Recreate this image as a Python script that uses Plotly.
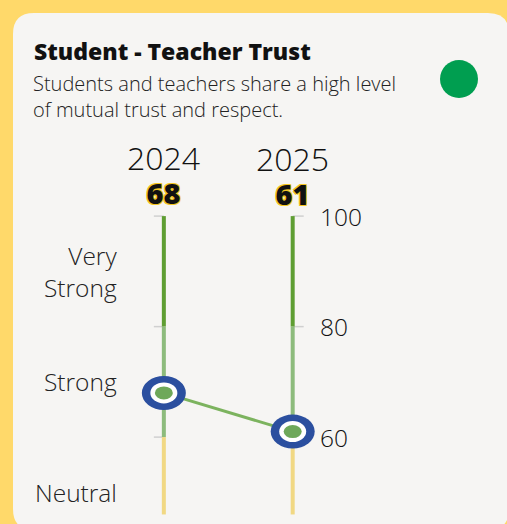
import plotly.graph_objects as go

# ---- data ----
years = ["2024", "2025"]
scores = [68, 61]
tick_vals = [100, 80, 60]
tick_labels = ["100", "80", "60"]
band_labels = ["Very<br>Strong", "Strong", "Neutral"]
band_mid = [90, 70, 50]
bands = [(80, 100, "#5f9e32"), (60, 80, "#8dbb7c"), (46, 60, "#f1d883")]
title = "Student - Teacher Trust"
subtitle_lines = ["Students and teachers share a high level", "of mutual trust and respect."]

FONT = "Open Sans"
W, H = 507, 524
L, R, T, B = 35, 137, 194, 4
pw, ph = W - L - R, H - T - B

def px(x):
    return (x - L) / pw

def py(y):
    return (H - B - y) / ph

xs = list(range(len(years)))
fig = go.Figure()

# vertical bands
for i in xs:
    for lo, hi, col in bands:
        fig.add_trace(go.Scatter(x=[i, i], y=[lo, hi], mode="lines",
                                 line=dict(color=col, width=4),
                                 hoverinfo="skip", showlegend=False))

# connector line
fig.add_trace(go.Scatter(x=xs, y=scores, mode="lines",
                         line=dict(color="#7cb35e", width=3),
                         hoverinfo="skip", showlegend=False))

shapes = []
# card background
x0, x1, y0, y1, r = 13, 509, 13, 530, 21
path = (f"M {px(x0+r)},{py(y0)} L {px(x1-r)},{py(y0)} "
        f"Q {px(x1)},{py(y0)} {px(x1)},{py(y0+r)} L {px(x1)},{py(y1-r)} "
        f"Q {px(x1)},{py(y1)} {px(x1-r)},{py(y1)} L {px(x0+r)},{py(y1)} "
        f"Q {px(x0)},{py(y1)} {px(x0)},{py(y1-r)} L {px(x0)},{py(y0+r)} "
        f"Q {px(x0)},{py(y0)} {px(x0+r)},{py(y0)} Z")
shapes.append(dict(type="path", path=path, xref="paper", yref="paper",
                   fillcolor="#f6f5f3", line=dict(width=0), layer="below"))
# status dot
shapes.append(dict(type="circle", xref="paper", yref="paper",
                   x0=px(440), x1=px(478), y0=py(98), y1=py(60),
                   fillcolor="#009e50", line=dict(width=0)))

# ticks
upp = (H - T - B) / (104 - 45)  # px per unit
xu = pw / 2.6
for tv in tick_vals:
    shapes.append(dict(type="line", xref="x", yref="y",
                       x0=0 - 10 / xu, x1=0, y0=tv, y1=tv,
                       line=dict(color="#d0d0d0", width=1.5), layer="below"))
for tv in tick_vals[:2]:
    shapes.append(dict(type="line", xref="x", yref="y",
                       x0=1, x1=1 + 11 / xu, y0=tv, y1=tv,
                       line=dict(color="#d0d0d0", width=1.5), layer="below"))

# ring markers (ellipses)
for i, s in zip(xs, scores):
    for (rw, rh, col) in [(22, 17, "#2b4f9f"), (13.5, 10.5, "#ffffff"), (9, 6.5, "#6ea85a")]:
        shapes.append(dict(type="circle", xref="x", yref="y",
                           x0=i - rw / xu, x1=i + rw / xu,
                           y0=s - rh / upp, y1=s + rh / upp,
                           fillcolor=col, line=dict(width=0), layer="above"))

ann = []
ann.append(dict(text=title, x=px(32), y=py(51), xref="paper", yref="paper",
                xanchor="left", yanchor="middle", showarrow=False,
                font=dict(family=FONT, size=23, color="#111111", weight=800)))
for k, line in enumerate(subtitle_lines):
    ann.append(dict(text=line, x=px(31), y=py(84 + 26 * k), xref="paper", yref="paper",
                    xanchor="left", yanchor="middle", showarrow=False, align="left",
                    font=dict(family=FONT, size=20, color="#222222", weight=300)))
SH = "1px 1px 0 #f3c623, -1px -1px 0 #f3c623, 1px -1px 0 #f3c623, -1px 1px 0 #f3c623"
for i, (yr, s) in enumerate(zip(years, scores)):
    txt = (f"<span style='font-size:32px'>{yr}</span><br>"
           f"<span style='font-size:29px;font-weight:800;text-shadow:{SH}'>{s}</span>")
    ann.append(dict(text=txt, x=i, y=py(174 + i), xref="x", yref="paper",
                    xanchor="center", yanchor="middle", showarrow=False,
                    font=dict(family=FONT, size=26, color="#111111", weight=300)))
for tv, tl in zip(tick_vals, tick_labels):
    ann.append(dict(text=tl, x=1, y=tv, xref="x", yref="y", xshift=25,
                    xanchor="left", yanchor="middle", showarrow=False,
                    font=dict(family=FONT, size=24.5, color="#111111", weight=300)))
for bm, bl in zip(band_mid, band_labels):
    ann.append(dict(text=bl, x=px(119), y=bm, xref="paper", yref="y",
                    xanchor="right", yanchor="middle", showarrow=False, align="right",
                    font=dict(family=FONT, size=24.5, color="#222222", weight=300)))

fig.update_layout(
    width=W, height=H, margin=dict(l=L, r=R, t=T, b=B),
    paper_bgcolor="#ffd96a", plot_bgcolor="rgba(0,0,0,0)",
    xaxis=dict(range=[-1, 1.6], visible=False, fixedrange=True),
    yaxis=dict(range=[45, 104], visible=False, fixedrange=True),
    shapes=shapes, annotations=ann, showlegend=False,
)
fig.write_html("out.html", config={"displayModeBar": False},
               post_script="document.body.style.margin='0px';document.body.style.background='#ffd96a';")
